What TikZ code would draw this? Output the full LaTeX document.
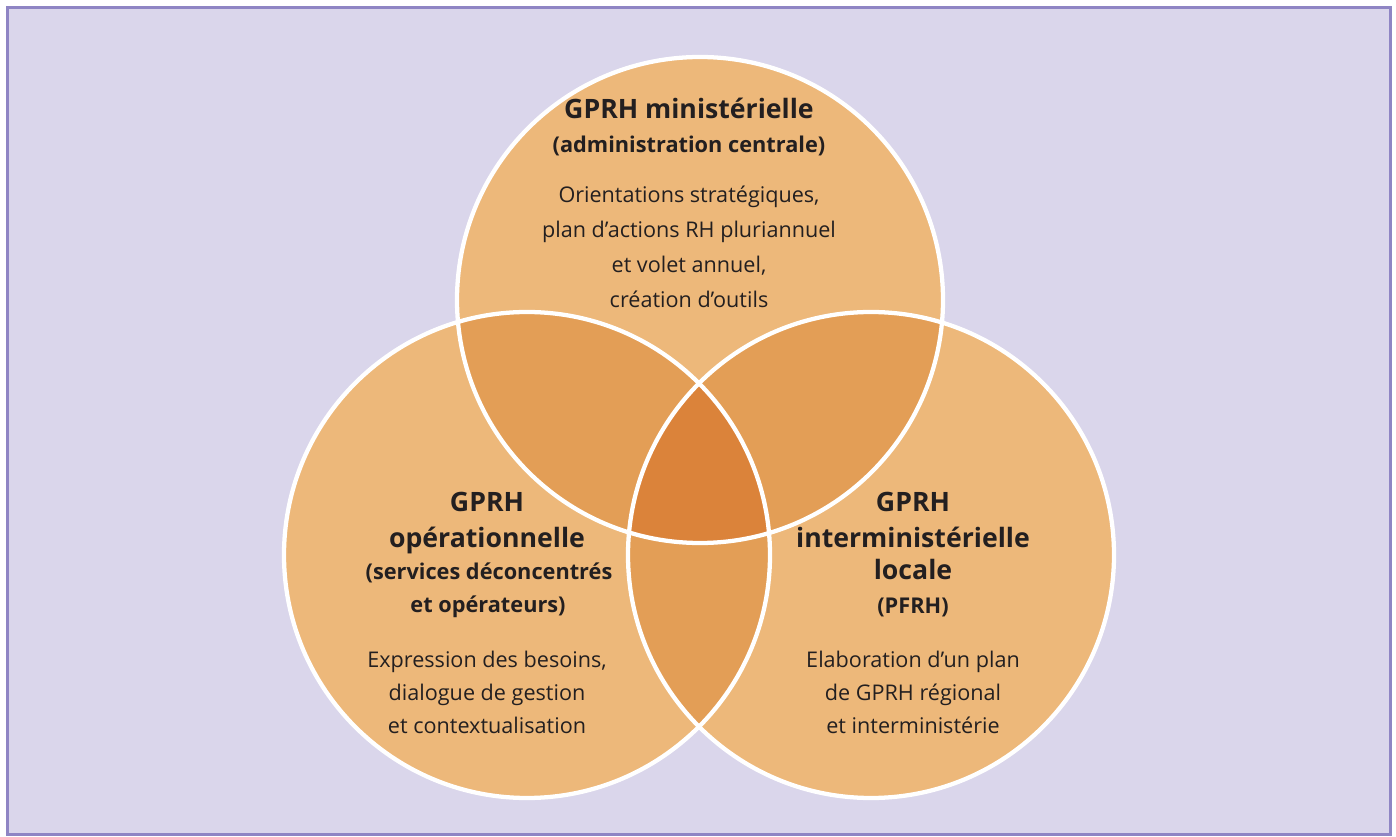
\documentclass[tikz,border=0pt]{standalone}
\usepackage{fontspec}
\setmainfont{Open Sans}
\usetikzlibrary{positioning}

\definecolor{frameLilac}{RGB}{143,133,196}
\definecolor{bgLilac}{RGB}{218,214,235}
\definecolor{circBase}{RGB}{237,184,122}
\definecolor{circTwo}{RGB}{227,158,86}
\definecolor{circThree}{RGB}{219,131,58}
\definecolor{textDark}{RGB}{35,31,32}

\tikzset{
  vtitle/.style={anchor=base, inner sep=0.75pt, text=textDark, font=\bfseries\fontsize{20}{24}\selectfont},
  vsub/.style={anchor=base, inner sep=0.75pt, text=textDark, font=\bfseries\fontsize{16.3}{19}\selectfont},
  vbody/.style={anchor=base, inner sep=0.75pt, text=textDark, font=\fontsize{16.2}{19}\selectfont},
  vring/.style={draw=white, line width=3.2pt}
}

\begin{document}
\begin{tikzpicture}[x=0.75pt,y=0.75pt,yscale=-1,xscale=1]
\useasboundingbox (0,0) rectangle (1396,837);
\fill[white] (0,0) rectangle (1396,837);

%Shape: Frame
\draw[draw=frameLilac, fill=bgLilac, line width=2.25pt] (7.5,8) rectangle (1390,834.5);

% circle centres
\coordinate (ctop) at (700,300);
\coordinate (cleft) at (527,555);
\coordinate (cright) at (871,555);

%Shape: Circles
\fill[circBase] (ctop) circle [radius=243];
\fill[circBase] (cleft) circle [radius=243];
\fill[circBase] (cright) circle [radius=243];
% two-way overlaps
\begin{scope}
  \clip (ctop) circle [radius=243];
  \fill[circTwo] (cleft) circle [radius=243];
  \fill[circTwo] (cright) circle [radius=243];
\end{scope}
\begin{scope}
  \clip (cleft) circle [radius=243];
  \fill[circTwo] (cright) circle [radius=243];
\end{scope}
% three-way overlap
\begin{scope}
  \clip (ctop) circle [radius=243];
  \clip (cleft) circle [radius=243];
  \fill[circThree] (cright) circle [radius=243];
\end{scope}
\draw[vring] (ctop) circle [radius=243];
\draw[vring] (cleft) circle [radius=243];
\draw[vring] (cright) circle [radius=243];

% Text Node: top circle
\node[vtitle] (toptitle) at (689,119) {GPRH ministérielle};
\node[vsub] (topsub) at (689,153) {(administration centrale)};
\foreach \txt [count=\i] in {{Orientations stratégiques,}, {plan d’actions RH pluriannuel}, {et volet annuel,}, {création d’outils}}
  \node[vbody] (topbody\i) at (689,{203+35*(\i-1)}) {\txt};

% Text Node: left circle
\node[vtitle] (lefttitle) at (487,512) {GPRH};
\node[vtitle] (lefttitleb) at (487,547) {opérationnelle};
\node[vsub] (leftsub) at (489,580) {(services déconcentrés};
\node[vsub] (leftsubb) at (488,613) {et opérateurs)};
\foreach \txt [count=\i] in {{Expression des besoins,}, {dialogue de gestion}, {et contextualisation}}
  \node[vbody] (leftbody\i) at (487,{667+33*(\i-1)}) {\txt};

% Text Node: right circle
\node[vtitle] (righttitle) at (913,512) {GPRH};
\node[vtitle] (righttitleb) at (913,547) {interministérielle};
\node[vtitle] (righttitlec) at (913,580) {locale};
\node[vsub] (rightsub) at (913,614) {(PFRH)};
\foreach \txt [count=\i] in {{Elaboration d’un plan}, {de GPRH régional}, {et interministérie}}
  \node[vbody] (rightbody\i) at (913,{667+33*(\i-1)}) {\txt};

\end{tikzpicture}
\end{document}
